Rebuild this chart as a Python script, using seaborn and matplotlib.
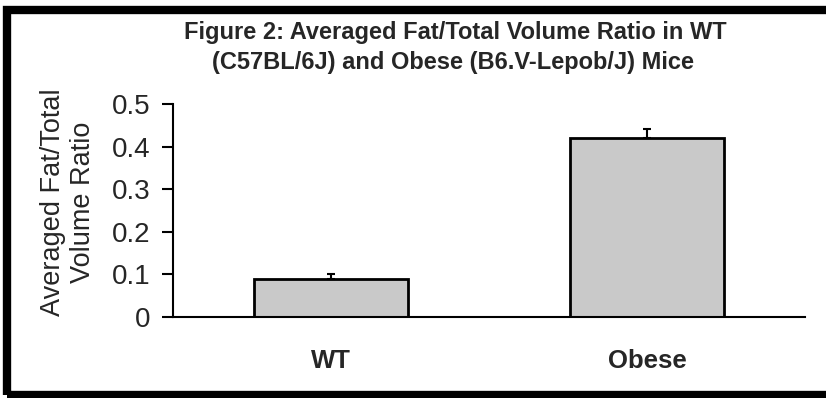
import numpy as np
import matplotlib
matplotlib.use('Agg')
import matplotlib.pyplot as plt
from matplotlib.patches import Rectangle
import seaborn as sns

# Datos
groups = ['WT', 'Obese']
means = [0.09, 0.42]
errs = [0.012, 0.022]
yticks = [0, 0.1, 0.2, 0.3, 0.4, 0.5]
ytick_labels = ['0', '0.1', '0.2', '0.3', '0.4', '0.5']

sns.set_style('white')
plt.rcParams['font.family'] = ['Liberation Sans', 'DejaVu Sans']

fig = plt.figure(figsize=(8.26, 3.98), dpi=100)
ax = fig.add_axes([173 / 826, 1 - 317 / 398, (805 - 173) / 826, (317 - 104) / 398])

sns.barplot(x=groups, y=means, color='#c9c9c9', edgecolor='black',
            linewidth=2, width=0.49, saturation=1, ax=ax)
ax.errorbar(x=np.arange(len(groups)), y=means, yerr=[np.zeros(len(errs)), errs],
            fmt='none', ecolor='black', elinewidth=1.5, capsize=3, capthick=1.5)

ax.set_xlim(-0.5, 1.5)
ax.set_ylim(0, 0.5)
ax.set_yticks(yticks)
ax.set_yticklabels(ytick_labels, fontsize=20)
ax.set_xticks(range(len(groups)))
ax.set_xticklabels(groups, fontsize=18.5, fontweight='bold')
ax.set_xticks([-0.5, 0.5, 1.5], minor=True)
ax.tick_params(axis='x', which='major', length=0, pad=23)
ax.tick_params(axis='x', which='minor', length=8, width=1.5, direction='out', color='black')
ax.tick_params(axis='y', length=8, width=1.5, direction='out', color='black', pad=8, left=True)
ax.set_xlabel('')
ax.set_ylabel('')
sns.despine(ax=ax)
for s in ['left', 'bottom']:
    ax.spines[s].set_color('black')
    ax.spines[s].set_linewidth(1.5)

# Etiqueta del eje y
fig.text(68 / 826, 1 - 202 / 398, 'Averaged Fat/Total\nVolume Ratio', rotation=90,
         ha='center', va='center', fontsize=19.5, linespacing=1.25)

# Titulo
fig.text(455 / 826, 1 - 32 / 398, 'Figure 2: Averaged Fat/Total Volume Ratio in WT',
         ha='center', va='center', fontsize=17, fontweight='bold')
fig.text(453 / 826, 1 - 63 / 398, '(C57BL/6J) and Obese (B6.V-Lepob/J) Mice',
         ha='center', va='center', fontsize=17, fontweight='bold')

# Marco negro
fig.add_artist(Rectangle((7.5 / 826, 3 / 398), 1.2, 385 / 398, transform=fig.transFigure,
                         fill=False, edgecolor='black', linewidth=6))

fig.savefig('out.png', dpi=100)
